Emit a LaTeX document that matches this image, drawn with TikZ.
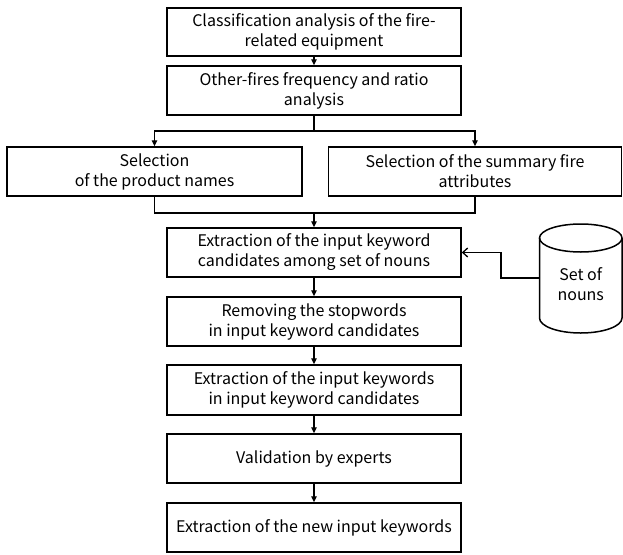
\documentclass[tikz,border=0pt]{standalone}
\usepackage{fontspec}
\setmainfont{Noto Sans CJK KR}
\usetikzlibrary{arrows.meta}
\begin{document}
\begin{tikzpicture}[x=1pt,y=-1pt,
  txt/.style={align=center, font=\fontsize{16}{20}\selectfont},
  stepbox/.style={txt, draw, line width=1.5pt, minimum width=294pt, minimum height=49pt, inner sep=0pt},
  conn/.style={line width=1.3pt},
  arr/.style={conn, -{Triangle[length=6pt,width=5.5pt]}},
  openarr/.style={conn, -{Straight Barb[length=5pt,width=9pt]}}]
\useasboundingbox (0,0) rectangle (623,554);
\node[stepbox, minimum height=48pt] (b1) at (314,32) {Classification analysis of the fire-\\related equipment};
\node[stepbox] (b2) at (314,90.5) {Other-fires frequency and ratio\\analysis};
\node[stepbox, minimum width=295pt] (sl) at (154.5,171.5) {Selection\\of the product names};
\node[stepbox, minimum width=293pt] (sr) at (475,171.5) {Selection of the summary fire\\attributes};
\node[stepbox] (b3) at (314,252.5) {Extraction of the input keyword\\candidates among set of nouns};
\node[stepbox] (b4) at (314,321.5) {Removing the stopwords\\in input keyword candidates};
\node[stepbox, minimum height=50pt] (b5) at (314,390) {Extraction of the input keywords\\in input keyword candidates};
\node[stepbox] (b6) at (314,458.5) {Validation by experts};
\node[stepbox] (b7) at (314,527.5) {Extraction of the new input keywords};
% cylinder
\draw[line width=1.5pt] (539.5,238) -- (539.5,318) arc[start angle=180, end angle=360, x radius=41.25, y radius=-15] -- (622,238);
\draw[line width=1.5pt] (580.75,238) ellipse[x radius=41.25, y radius=14];
\node[txt] (nouns) at (580.75,284) {Set of\\nouns};
\coordinate (cylL) at (539.5,278);
% connectors
\draw[arr] (b1) -- (b2);
\coordinate (split) at (314,131);
\draw[conn] (b2.south) -- (split);
\draw[arr] (split) -| (sl.north);
\draw[arr] (split) -| (sr.north);
\coordinate (join) at (314,213);
\draw[conn] (sl.south) |- (join);
\draw[conn] (sr.south) |- (join);
\draw[arr] (join) -- (b3.north);
\draw[arr] (b3) -- (b4);
\draw[arr] (b4) -- (b5);
\draw[arr] (b5) -- (b6);
\draw[arr] (b6) -- (b7);
\coordinate (bendA) at (501,278);
\coordinate (bendB) at (501,252.5);
\draw[openarr] (cylL) -- (bendA) -- (bendB) -- (b3.east);
\end{tikzpicture}
\end{document}
